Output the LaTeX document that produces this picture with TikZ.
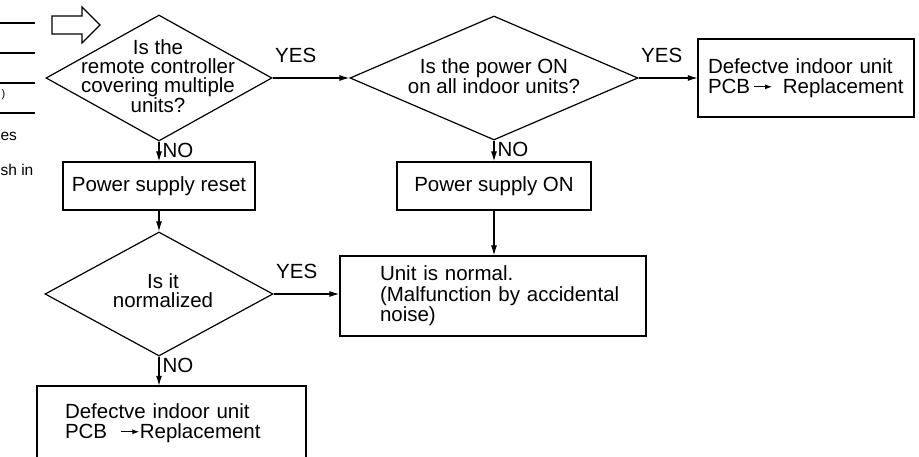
\documentclass[tikz,border=0pt]{standalone}
\usepackage{fontspec}
\setmainfont{Liberation Sans}
\usetikzlibrary{positioning,arrows.meta,shapes.geometric}

\newcommand{\pcbarr}[1]{\tikz[baseline=0pt]\draw[-{Latex[length=7pt,width=5pt]},line width=1pt] (0pt,0.33em) -- (#1,0.33em);}

\begin{document}
\begin{tikzpicture}[x=1pt,y=-1pt,line width=1.2pt,>={Latex[length=10pt,width=6pt]},
  box/.style={draw,inner sep=0pt,font=\fontsize{20.5}{20.5}\selectfont},
  dia/.style={draw,diamond,inner sep=0pt},
  txt/.style={align=center,inner sep=0pt,font=\fontsize{20.5}{19}\selectfont},
  lbl/.style={inner sep=0pt,font=\fontsize{20.5}{20}\selectfont}]
\useasboundingbox (0,0) rectangle (919,457);

% cut-off part of the neighbouring figure
\foreach \y in {23,53,83,113} \draw (0,\y) -- (35,\y);
\node[lbl,anchor=base west,font=\fontsize{11}{11}\selectfont] (par) at (1,98) {)};
\node[lbl,anchor=base west,font=\fontsize{15.5}{16}\selectfont] (es) at (0,141) {es};
\node[lbl,anchor=base west,font=\fontsize{15.5}{16}\selectfont] (shin) at (0,176) {sh in};
\draw (52,16) -- (82,16) -- (82,7) -- (100,25) -- (82,43) -- (82,34) -- (52,34) -- cycle;

% questions
\node[dia,minimum width=226pt,minimum height=126pt] (q1) at (159,78) {};
\node[txt] (q1t) at (158,76) {Is the\\remote controller\\covering multiple\\units?};
\node[dia,minimum width=288pt,minimum height=124pt] (q2) at (494,78) {};
\node[txt] (q2t) at (494,76) {Is the power ON\\on all indoor units?};
\node[dia,minimum width=228pt,minimum height=124pt] (q3) at (159,294) {};
\node[txt] (q3t) at (163,291) {Is it\\normalized};

% results
\node[box,minimum width=216pt,minimum height=78pt,text width=196pt,align=left] (pcb1) at (806,78)
  {\mbox{Defectve indoor unit}\\\mbox{PCB\,\pcbarr{18pt}\, Replacement}};
\node[box,minimum width=192pt,minimum height=48pt] (psr) at (159,186) {Power supply reset};
\node[box,minimum width=194pt,minimum height=48pt] (pson) at (494,186) {Power supply ON};
\node[box,minimum width=306pt,minimum height=80pt,text width=226pt,align=left] (unit) at (493,296)
  {Unit is normal.\\\mbox{(Malfunction by accidental}\\noise)};
\node[box,minimum width=269pt,minimum height=74pt,text width=213pt,align=left] (pcb2) at (171.5,423)
  {Defectve indoor unit\\\mbox{PCB\ \ \pcbarr{18pt}Replacement}};

% connectors
\draw[->] (q1.east) -- (q2.west);
\draw[->] (q2.east) -- (pcb1.west);
\draw[->] (q1.south) -- (psr.north);
\draw[->] (psr.south) -- (q3.north);
\draw[->] (q2.south) -- (pson.north);
\draw[->] (pson.south) -- (pson.south |- unit.north);
\draw[->] (q3.east) -- (q3.east -| unit.west);
\draw[->] (q3.south) -- (q3.south |- pcb2.north);

\node[lbl,anchor=base west] (yes1) at ([xshift=2pt,yshift=15pt]q1.east) {YES};
\node[lbl,anchor=base west] (yes2) at ([xshift=2pt,yshift=15pt]q2.east) {YES};
\node[lbl,anchor=base west] (yes3) at ([xshift=2pt,yshift=15pt]q3.east) {YES};
\node[lbl,anchor=base west] (no1) at ([xshift=3pt,yshift=-16pt]q1.south) {NO};
\node[lbl,anchor=base west] (no2) at ([xshift=3pt,yshift=-16pt]q2.south) {NO};
\node[lbl,anchor=base west] (no3) at ([xshift=3pt,yshift=-16pt]q3.south) {NO};
\end{tikzpicture}
\end{document}
